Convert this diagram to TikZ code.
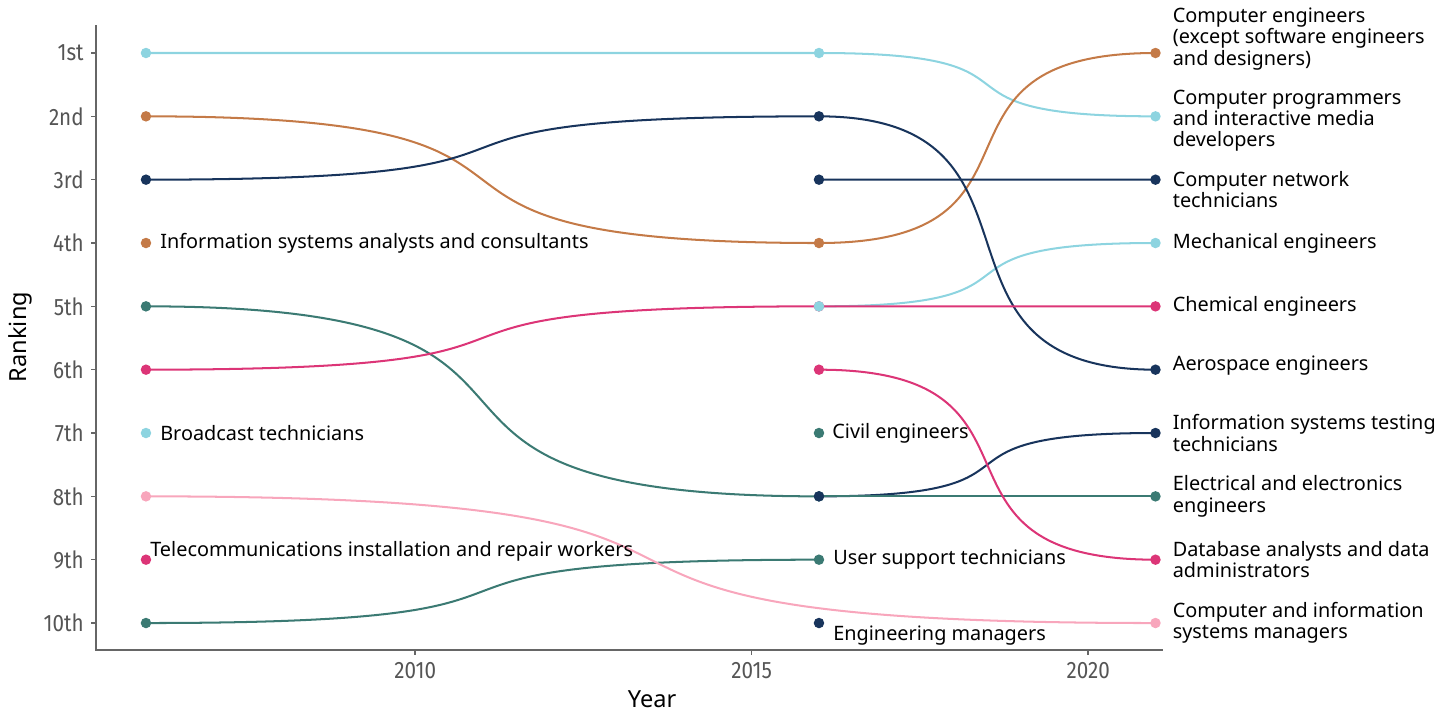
\documentclass[tikz,border=0pt]{standalone}
\usepackage{fontspec}
\setmainfont{Noto Sans}
\newfontfamily\tickfont{Fira Sans}[FakeStretch=0.87]
\usetikzlibrary{positioning}
\usetikzlibrary{calc}
\definecolor{bumpsky}{HTML}{8DD4E0}
\definecolor{bumpcopper}{HTML}{C47A47}
\definecolor{bumpnavy}{HTML}{18345C}
\definecolor{bumpteal}{HTML}{3B7A73}
\definecolor{bumprose}{HTML}{DC3577}
\definecolor{bumpblush}{HTML}{F8A6BC}
\definecolor{axisgray}{HTML}{666666}
\definecolor{ticktext}{HTML}{555555}
\tikzset{
        rankpt/.style={circle, fill=#1, inner sep=0pt, minimum size=0.21cm},
        bumpline/.style={draw=#1, line width=1.15pt},
        lbl/.style={font=\fontsize{11.3}{12}\selectfont, align=left, inner sep=0pt},
        ticklbl/.style={font=\tickfont\fontsize{13.5}{15}\selectfont, text=ticktext, inner sep=0pt},
        axisline/.style={draw=axisgray, line width=0.9pt},
        axistitle/.style={font=\fontsize{13.4}{15}\selectfont, inner sep=0pt},
}
% sigmoid-like bump between two named points
\newcommand{\bump}[3]{\draw[bumpline=#1] (#2) .. controls ($(#2)!0.75!(#3 |- #2)$) and ($(#3)!0.75!(#2 |- #3)$) .. (#3);}
\begin{document}
\begin{tikzpicture}[x=1.346cm, y=-1.2667cm]
      \useasboundingbox (3.831,0.163) rectangle (25.406,11.421);
      % RANK POSITIONS (year - 2000, rank)
      \coordinate (prog06) at (6,1);
      \coordinate (prog16) at (16,1);
      \coordinate (prog21) at (21,2);
      \coordinate (mech16) at (16,5);
      \coordinate (mech21) at (21,4);
      \coordinate (broad06) at (6,7);
      \coordinate (ceng06) at (6,2);
      \coordinate (ceng16) at (16,4);
      \coordinate (ceng21) at (21,1);
      \coordinate (isac06) at (6,4);
      \coordinate (aero06) at (6,3);
      \coordinate (aero16) at (16,2);
      \coordinate (aero21) at (21,6);
      \coordinate (net16) at (16,3);
      \coordinate (net21) at (21,3);
      \coordinate (test16) at (16,8);
      \coordinate (test21) at (21,7);
      \coordinate (emgr16) at (16,10);
      \coordinate (elec06) at (6,5);
      \coordinate (elec16) at (16,8);
      \coordinate (elec21) at (21,8);
      \coordinate (usup06) at (6,10);
      \coordinate (usup16) at (16,9);
      \coordinate (civil16) at (16,7);
      \coordinate (chem06) at (6,6);
      \coordinate (chem16) at (16,5);
      \coordinate (chem21) at (21,5);
      \coordinate (dba16) at (16,6);
      \coordinate (dba21) at (21,9);
      \coordinate (tele06) at (6,9);
      \coordinate (cism06) at (6,8);
      \coordinate (cism21) at (21,10);

      % AXES
      \draw[axisline] (5.257,0.558) -- (5.257,10.427) -- (21.111,10.427);
      \draw[axisline] (5.257,1) -- ++(-0.1cm,0) node[ticklbl, left=0.13cm]{1st};
      \draw[axisline] (5.257,2) -- ++(-0.1cm,0) node[ticklbl, left=0.13cm]{2nd};
      \draw[axisline] (5.257,3) -- ++(-0.1cm,0) node[ticklbl, left=0.13cm]{3rd};
      \draw[axisline] (5.257,4) -- ++(-0.1cm,0) node[ticklbl, left=0.13cm]{4th};
      \draw[axisline] (5.257,5) -- ++(-0.1cm,0) node[ticklbl, left=0.13cm]{5th};
      \draw[axisline] (5.257,6) -- ++(-0.1cm,0) node[ticklbl, left=0.13cm]{6th};
      \draw[axisline] (5.257,7) -- ++(-0.1cm,0) node[ticklbl, left=0.13cm]{7th};
      \draw[axisline] (5.257,8) -- ++(-0.1cm,0) node[ticklbl, left=0.13cm]{8th};
      \draw[axisline] (5.257,9) -- ++(-0.1cm,0) node[ticklbl, left=0.13cm]{9th};
      \draw[axisline] (5.257,10) -- ++(-0.1cm,0) node[ticklbl, left=0.13cm]{10th};
      \draw[axisline] (10,10.427) -- ++(0,-0.1cm) node[ticklbl, below=0.13cm]{2010};
      \draw[axisline] (15,10.427) -- ++(0,-0.1cm) node[ticklbl, below=0.13cm]{2015};
      \draw[axisline] (20,10.427) -- ++(0,-0.1cm) node[ticklbl, below=0.13cm]{2020};
      \node[axistitle] (xtitle) at (13.52,11.2) {Year};
      \node[axistitle, rotate=90] (ytitle) at (4.128,5.484) {Ranking};

      % BUMPS
      \bump{bumpsky}{prog06}{prog16}
      \bump{bumpsky}{prog16}{prog21}
      \bump{bumpsky}{mech16}{mech21}
      \bump{bumpcopper}{ceng06}{ceng16}
      \bump{bumpcopper}{ceng16}{ceng21}
      \bump{bumpnavy}{aero06}{aero16}
      \bump{bumpnavy}{aero16}{aero21}
      \bump{bumpnavy}{net16}{net21}
      \bump{bumpnavy}{test16}{test21}
      \bump{bumpteal}{elec06}{elec16}
      \bump{bumpteal}{elec16}{elec21}
      \bump{bumpteal}{usup06}{usup16}
      \bump{bumprose}{chem06}{chem16}
      \bump{bumprose}{chem16}{chem21}
      \bump{bumprose}{dba16}{dba21}
      \bump{bumpblush}{cism06}{cism21}

      % POINTS
      \node[rankpt=bumpblush] at (cism06) {};
      \node[rankpt=bumpblush] at (cism21) {};
      \node[rankpt=bumpteal] at (elec06) {};
      \node[rankpt=bumpteal] at (elec16) {};
      \node[rankpt=bumpteal] at (elec21) {};
      \node[rankpt=bumpteal] at (usup06) {};
      \node[rankpt=bumpteal] at (usup16) {};
      \node[rankpt=bumpteal] at (civil16) {};
      \node[rankpt=bumprose] at (chem06) {};
      \node[rankpt=bumprose] at (chem16) {};
      \node[rankpt=bumprose] at (chem21) {};
      \node[rankpt=bumprose] at (dba16) {};
      \node[rankpt=bumprose] at (dba21) {};
      \node[rankpt=bumprose] at (tele06) {};
      \node[rankpt=bumpcopper] at (ceng06) {};
      \node[rankpt=bumpcopper] at (ceng16) {};
      \node[rankpt=bumpcopper] at (ceng21) {};
      \node[rankpt=bumpcopper] at (isac06) {};
      \node[rankpt=bumpnavy] at (aero06) {};
      \node[rankpt=bumpnavy] at (aero16) {};
      \node[rankpt=bumpnavy] at (aero21) {};
      \node[rankpt=bumpnavy] at (net16) {};
      \node[rankpt=bumpnavy] at (net21) {};
      \node[rankpt=bumpnavy] at (test16) {};
      \node[rankpt=bumpnavy] at (test21) {};
      \node[rankpt=bumpnavy] at (emgr16) {};
      \node[rankpt=bumpsky] at (prog06) {};
      \node[rankpt=bumpsky] at (prog16) {};
      \node[rankpt=bumpsky] at (prog21) {};
      \node[rankpt=bumpsky] at (mech16) {};
      \node[rankpt=bumpsky] at (mech21) {};
      \node[rankpt=bumpsky] at (broad06) {};

      % LABELS
      \node[lbl, right=0.28cm of isac06] (isaclbl) {Information systems analysts and consultants};
      \node[lbl, right=0.28cm of broad06] (broadlbl) {Broadcast technicians};
      \node[lbl, anchor=west, xshift=0.08cm, yshift=0.16cm] (telelbl) at (tele06) {Telecommunications installation and repair workers};
      \node[lbl, right=0.26cm of civil16] (civillbl) {Civil engineers};
      \node[lbl, right=0.28cm of usup16] (usuplbl) {User support technicians};
      \node[lbl, anchor=west, xshift=0.28cm, yshift=-0.26cm] (emgrlbl) at (emgr16) {Engineering managers};
      \node[lbl, right=0.34cm of ceng21, yshift=0.28cm] (cenglbl) {Computer engineers\\(except software engineers\\and designers)};
      \node[lbl, right=0.34cm of prog21, yshift=-0.08cm] (proglbl) {Computer programmers\\and interactive media\\developers};
      \node[lbl, right=0.34cm of net21, yshift=-0.2cm] (netlbl) {Computer network\\technicians};
      \node[lbl, right=0.34cm of mech21] (mechlbl) {Mechanical engineers};
      \node[lbl, right=0.34cm of chem21] (chemlbl) {Chemical engineers};
      \node[lbl, right=0.34cm of aero21, yshift=0.08cm] (aerolbl) {Aerospace engineers};
      \node[lbl, right=0.34cm of test21] (testlbl) {Information systems testing\\technicians};
      \node[lbl, right=0.34cm of elec21] (eleclbl) {Electrical and electronics\\engineers};
      \node[lbl, right=0.34cm of dba21] (dbalbl) {Database analysts and data\\administrators};
      \node[lbl, right=0.34cm of cism21] (cismlbl) {Computer and information\\systems managers};
\end{tikzpicture}
\end{document}
